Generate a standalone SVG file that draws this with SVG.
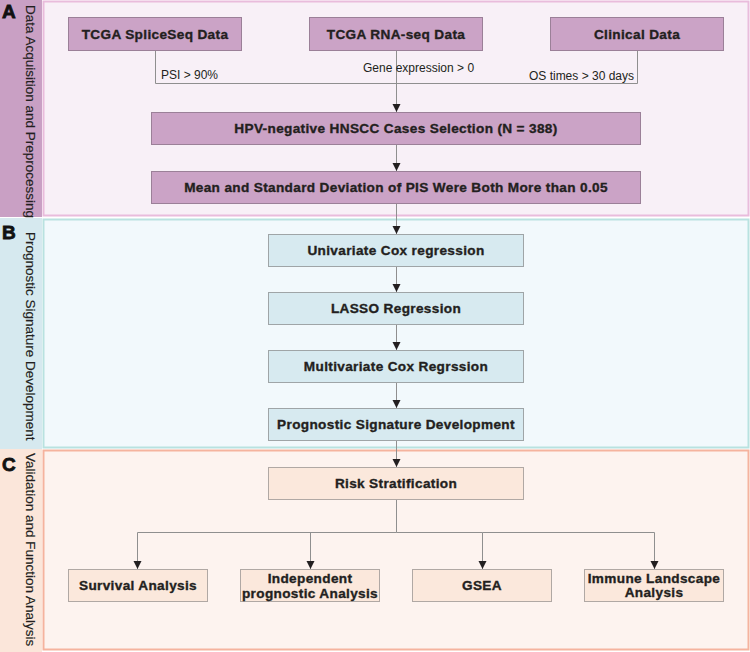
<svg xmlns="http://www.w3.org/2000/svg" width="750" height="652" viewBox="0 0 750 652">
  <defs>
    <marker id="arrow" markerWidth="9" markerHeight="9" refX="8" refY="4.5" orient="auto" markerUnits="userSpaceOnUse">
      <path d="M0,0.5 L8,4.5 L0,8.5 Z" fill="#231f20"/>
    </marker>
    <style>
      .box text, .lbl { font-family: "Liberation Sans", Arial, sans-serif; fill: #231f20; }
      .box text { font-size: 13.6px; font-weight: bold; text-anchor: middle; letter-spacing: 0.35px; stroke: #231f20; stroke-width: 0.35px; }
      .lbl { font-size: 12px; }
      .side { font-family: "Liberation Sans", Arial, sans-serif; font-size: 13.5px; fill: #231f20; stroke: #231f20; stroke-width: 0.15px; }
      .tag { font-family: "Liberation Sans", Arial, sans-serif; font-size: 19px; font-weight: 900; fill: #111; stroke: #111; stroke-width: 0.8px; }
      .pa rect { fill: #cba3c6; stroke: #9b8098; stroke-width: 1; }
      .pb rect { fill: #d7eaf0; stroke: #9fa5a7; stroke-width: 1; }
      .pc rect { fill: #fbe8dc; stroke: #b0a8a4; stroke-width: 1; }
      .conn path { fill: none; stroke: #8f8f8f; stroke-width: 1; }
      .conn .arr { marker-end: url(#arrow); }
    </style>
  </defs>

  <rect width="750" height="652" fill="#ffffff"/>

  <!-- Section A: data acquisition -->
  <rect x="0" y="0" width="42" height="217" fill="#c9a0c4"/>
  <rect x="43.5" y="1.5" width="705" height="214" fill="#f8f0f7" stroke="#e9bcdc" stroke-width="2"/>
  <text class="tag" x="2" y="18">A</text>
  <text class="side" transform="translate(26,5) rotate(90)">Data Acquisition and Preprocessing</text>

  <!-- Section B: signature development -->
  <rect x="0" y="218" width="42" height="231" fill="#d6e9ef"/>
  <rect x="43.5" y="219.5" width="705" height="228" fill="#f2f9fc" stroke="#b9e2e0" stroke-width="2"/>
  <text class="tag" x="2" y="239">B</text>
  <text class="side" transform="translate(26,232) rotate(90)">Prognostic Signature Development</text>

  <!-- Section C: validation -->
  <rect x="0" y="449" width="42" height="203" fill="#fbe6da"/>
  <rect x="43.5" y="450.5" width="705" height="199" fill="#fdf3ef" stroke="#f5b39e" stroke-width="2"/>
  <text class="tag" x="2" y="471">C</text>
  <text class="side" transform="translate(26,453) rotate(90)">Validation and Function Analysis</text>

  <!-- Connectors -->
  <g class="conn">
    <path d="M155.5,51 V83.5 H637.5 V51"/>
    <path class="arr" d="M396.5,51 V112"/>
    <path class="arr" d="M396.5,145 V171"/>
    <path class="arr" d="M396.5,204 V234"/>
    <path class="arr" d="M396.5,267 V292"/>
    <path class="arr" d="M396.5,325 V350"/>
    <path class="arr" d="M396.5,383 V408"/>
    <path class="arr" d="M396.5,441 V467"/>
    <path d="M396.5,499 V532.5"/>
    <path class="arr" d="M396.5,532.5 H137.5 V569"/>
    <path class="arr" d="M310.5,532.5 V569"/>
    <path class="arr" d="M396.5,532.5 H482.5 V569"/>
    <path class="arr" d="M482.5,532.5 H654.5 V569"/>
  </g>

  <!-- Filter labels -->
  <text class="lbl" x="161" y="79">PSI &gt; 90%</text>
  <text class="lbl" x="363" y="72">Gene expression &gt; 0</text>
  <text class="lbl" x="634" y="80" text-anchor="end">OS times &gt; 30 days</text>

  <!-- Nodes: section A -->
  <g id="splice" class="box pa"><rect x="68.5" y="17.5" width="173" height="33"/><text x="155" y="38.5">TCGA SpliceSeq Data</text></g>
  <g id="rnaseq" class="box pa"><rect x="309.5" y="17.5" width="173" height="33"/><text x="396" y="38.5">TCGA RNA-seq Data</text></g>
  <g id="clinical" class="box pa"><rect x="550.5" y="17.5" width="173" height="33"/><text x="637" y="38.5">Clinical Data</text></g>
  <g id="cases" class="box pa"><rect x="151.5" y="112.5" width="489" height="32"/><text x="396" y="133">HPV-negative HNSCC Cases Selection (N = 388)</text></g>
  <g id="filter" class="box pa"><rect x="151.5" y="171.5" width="489" height="32"/><text x="396" y="192">Mean and Standard Deviation of PIS Were Both More than 0.05</text></g>

  <!-- Nodes: section B -->
  <g id="univariate" class="box pb"><rect x="268.5" y="234.5" width="255" height="32"/><text x="396" y="255">Univariate Cox regression</text></g>
  <g id="lasso" class="box pb"><rect x="268.5" y="292.5" width="255" height="32"/><text x="396" y="313">LASSO Regression</text></g>
  <g id="multivariate" class="box pb"><rect x="268.5" y="350.5" width="255" height="32"/><text x="396" y="371">Multivariate Cox Regrssion</text></g>
  <g id="signature" class="box pb"><rect x="268.5" y="408.5" width="255" height="32"/><text x="396" y="429">Prognostic Signature Development</text></g>

  <!-- Nodes: section C -->
  <g id="risk" class="box pc"><rect x="268.5" y="467.5" width="255" height="32"/><text x="396" y="488">Risk Stratification</text></g>
  <g id="survival" class="box pc"><rect x="68.5" y="569.5" width="139" height="32"/><text x="138" y="590">Survival Analysis</text></g>
  <g id="independent" class="box pc"><rect x="240.5" y="569.5" width="139" height="32"/><text x="310" y="583">Independent</text><text x="310" y="598">prognostic Analysis</text></g>
  <g id="gsea" class="box pc"><rect x="412.5" y="569.5" width="139" height="32"/><text x="482" y="590">GSEA</text></g>
  <g id="immune" class="box pc"><rect x="584.5" y="569.5" width="139" height="32"/><text x="654" y="583">Immune Landscape</text><text x="654" y="597">Analysis</text></g>
</svg>
